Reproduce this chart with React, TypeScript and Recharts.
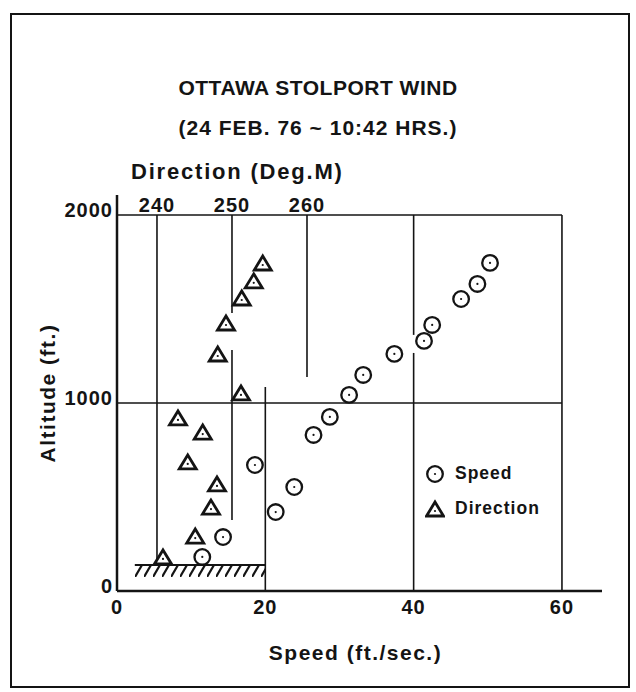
import React from "react";
import { ScatterChart, Scatter, XAxis, YAxis, ReferenceLine, ReferenceArea, Legend } from "recharts";

// Wind sounding: altitude (ft) against speed (ft/sec)
const speedAltitudes = [181, 287, 420, 553, 670, 830, 926, 1043, 1149, 1261, 1330, 1415, 1553, 1633, 1745];
const speedValues = [11.5, 14.3, 21.4, 23.9, 18.6, 26.5, 28.7, 31.3, 33.2, 37.4, 41.4, 42.5, 46.4, 48.6, 50.3];

// altitude (ft) against direction (deg M)
const directionAltitudes = [176, 287, 441, 564, 681, 840, 915, 1048, 1255, 1420, 1553, 1644, 1739];
const directionValues = [240.8, 245.1, 247.2, 248.0, 244.1, 246.1, 242.8, 251.2, 248.1, 249.2, 251.3, 252.9, 254.1];

const speedTicks = [0, 20, 40, 60];
const directionTicks = [240, 250, 260];
const altitudeTicks = [0, 1000, 2000];
const legendOrder = ["Speed", "Direction"];

// hand drawn guide lines of the original: [value, from altitude, to altitude]
const speedGuides = [
  [20, 0, 1085],
  [40, 0, 1266],
  [40, 1362, 2000],
  [60, 0, 2000],
];
const directionGuides = [
  [240, 138, 2000],
  [250, 378, 1282],
  [250, 1479, 2000],
  [260, 1138, 2000],
];
const altitudeGuides = [1000, 2000];
const groundSpeed = [2.4, 20];
const groundAltitude = [74, 138];

const speedPoints = speedValues.map((speed, i) => ({ speed, alt: speedAltitudes[i] }));
const directionPoints = directionValues.map((dir, i) => ({ dir, alt: directionAltitudes[i] }));

const FONT = '"Liberation Sans", Arial, Helvetica, sans-serif';
const INK = "#141414";

function SpeedMark(props: any) {
  const { cx, cy } = props;
  if (cx == null || cy == null) return null;
  return (
    <g>
      <circle cx={cx} cy={cy} r={7.8} fill="#fff" stroke={INK} strokeWidth={2.3} />
      <circle cx={cx} cy={cy} r={1.1} fill={INK} />
    </g>
  );
}

function DirectionMark(props: any) {
  const { cx, cy } = props;
  if (cx == null || cy == null) return null;
  const pts = `${cx},${cy - 8} ${cx - 8.5},${cy + 6} ${cx + 8.5},${cy + 6}`;
  return (
    <g>
      <polygon points={pts} fill="#fff" stroke={INK} strokeWidth={2.8} />
      <circle cx={cx} cy={cy + 1} r={1.1} fill={INK} />
    </g>
  );
}

const tickText = { fill: INK, fontSize: 20, fontWeight: 700, fontFamily: FONT, letterSpacing: 1 };

function SpeedTick(p: any) {
  return (
    <text x={p.x} y={p.y + 21} textAnchor="middle" {...tickText}>
      {p.payload.value}
    </text>
  );
}

function DirectionTick(p: any) {
  return (
    <text x={p.x} y={p.y + 17} textAnchor="middle" {...tickText}>
      {p.payload.value}
    </text>
  );
}

function AltitudeTick(p: any) {
  return (
    <text x={p.x} y={p.y + 2} textAnchor="end" {...tickText}>
      {p.payload.value}
    </text>
  );
}

function LegendBox({ payload }: any) {
  const items = legendOrder.filter((name) => (payload || []).some((e: any) => e.value === name));
  return (
    <div style={{ fontFamily: FONT, fontWeight: 700, fontSize: 17.5, letterSpacing: 1, color: INK }}>
      {items.map((name) => (
        <div key={name} style={{ display: "flex", alignItems: "center", height: 35 }}>
          <svg width={20} height={20}>
            {name === "Speed" ? <SpeedMark cx={10} cy={10} /> : <DirectionMark cx={10} cy={11} />}
          </svg>
          <span style={{ marginLeft: 10 }}>{name}</span>
        </div>
      ))}
    </div>
  );
}

export default function App() {
  return (
    <div style={{ position: "absolute", left: 0, top: 0, width: 636, height: 692, background: "#fff", fontFamily: FONT, color: INK }}>
      <div style={{ position: "absolute", left: 10, top: 13, width: 616, height: 671, border: `2px solid ${INK}` }} />

      <div style={{ position: "absolute", left: 0, width: 636, top: 75, textAlign: "center", fontSize: 21, fontWeight: 700, letterSpacing: 0.5, lineHeight: "26px" }}>
        OTTAWA STOLPORT WIND
      </div>
      <div style={{ position: "absolute", left: 0, width: 636, top: 115, textAlign: "center", fontSize: 21, fontWeight: 700, letterSpacing: 1, lineHeight: "26px" }}>
        (24 FEB. 76 ~ 10:42 HRS.)
      </div>
      <div style={{ position: "absolute", left: 131, top: 159, fontSize: 22, fontWeight: 700, letterSpacing: 1.8, lineHeight: "26px" }}>
        Direction (Deg.M)
      </div>

      <div style={{ position: "absolute", left: 0, top: 0 }}>
        <ScatterChart width={636} height={692} margin={{ top: 0, right: 34, bottom: 0, left: 20 }}>
          <defs>
            <pattern id="ground-hatch" patternUnits="userSpaceOnUse" width={9} height={12} y={565}>
              <line x1={0} y1={12} x2={7} y2={0} stroke={INK} strokeWidth={2.2} />
            </pattern>
          </defs>

          <XAxis
            xAxisId="speed"
            type="number"
            dataKey="speed"
            orientation="bottom"
            domain={[0, 65.4]}
            ticks={speedTicks}
            height={101}
            tickSize={0}
            tickLine={false}
            tick={SpeedTick}
            axisLine={{ stroke: INK, strokeWidth: 2.5 }}
            label={{ value: "Speed (ft./sec.)", position: "insideBottom", offset: 32, dx: -4, fill: INK, fontSize: 21, fontWeight: 700, fontFamily: FONT, letterSpacing: 1.5 }}
          />
          <XAxis
            xAxisId="dir"
            type="number"
            dataKey="dir"
            orientation="top"
            domain={[234.67, 299.33]}
            ticks={directionTicks}
            height={195}
            tickSize={0}
            tickMargin={0}
            tickLine={false}
            axisLine={false}
            tick={DirectionTick}
          />
          <YAxis
            yAxisId="alt"
            type="number"
            dataKey="alt"
            domain={[0, 2106]}
            ticks={altitudeTicks}
            width={97}
            tickSize={0}
            tickMargin={4}
            tickLine={false}
            tick={AltitudeTick}
            axisLine={{ stroke: INK, strokeWidth: 2.5 }}
            label={{ value: "Altitude (ft.)", angle: -90, position: "insideLeft", offset: 28, fill: INK, fontSize: 21, fontWeight: 700, fontFamily: FONT, letterSpacing: 1.5, style: { textAnchor: "middle" } }}
          />

          <ReferenceArea
            xAxisId="speed"
            yAxisId="alt"
            x1={groundSpeed[0]}
            x2={groundSpeed[1]}
            y1={groundAltitude[0]}
            y2={groundAltitude[1]}
            fill="url(#ground-hatch)"
            fillOpacity={1}
            stroke="none"
          />
          <ReferenceLine
            xAxisId="speed"
            yAxisId="alt"
            segment={[{ x: groundSpeed[0], y: groundAltitude[1] }, { x: groundSpeed[1], y: groundAltitude[1] }]}
            stroke={INK}
            strokeWidth={2}
          />

          {altitudeGuides.map((a) => (
            <ReferenceLine key={`h${a}`} xAxisId="speed" yAxisId="alt" segment={[{ x: 0, y: a }, { x: 60, y: a }]} stroke={INK} strokeWidth={1.6} />
          ))}
          {speedGuides.map(([v, a0, a1]) => (
            <ReferenceLine key={`s${v}-${a0}`} xAxisId="speed" yAxisId="alt" segment={[{ x: v, y: a0 }, { x: v, y: a1 }]} stroke={INK} strokeWidth={1.6} />
          ))}
          {directionGuides.map(([v, a0, a1]) => (
            <ReferenceLine key={`d${v}-${a0}`} xAxisId="dir" yAxisId="alt" segment={[{ x: v, y: a0 }, { x: v, y: a1 }]} stroke={INK} strokeWidth={1.6} />
          ))}

          <Scatter name="Speed" data={speedPoints} xAxisId="speed" yAxisId="alt" shape={SpeedMark} isAnimationActive={false} />
          <Scatter name="Direction" data={directionPoints} xAxisId="dir" yAxisId="alt" shape={DirectionMark} isAnimationActive={false} />

          <Legend layout="vertical" align="center" verticalAlign="middle" wrapperStyle={{ left: 425, top: 456, width: 160 }} content={LegendBox} />
        </ScatterChart>
      </div>
    </div>
  );
}
